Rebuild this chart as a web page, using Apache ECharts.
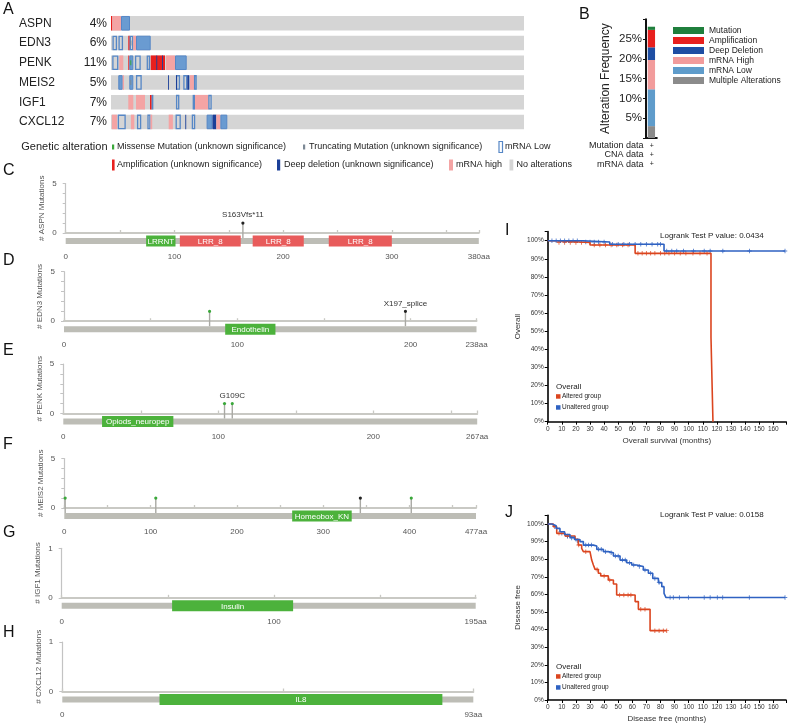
<!DOCTYPE html>
<html><head><meta charset="utf-8">
<script src="https://cdn.jsdelivr.net/npm/echarts@6/dist/echarts.min.js"></script>
<style>html,body{margin:0;padding:0;background:#fff}#c{width:793px;height:726px}</style>
</head><body><div id="c"></div>
<script>
const FONT = '"Liberation Sans", Arial, Helvetica, sans-serif';

// ---------------- Panel A: oncoprint data ----------------
const genes = ['ASPN', 'EDN3', 'PENK', 'MEIS2', 'IGF1', 'CXCL12'];
const genePct = ['4%', '6%', '11%', '5%', '7%', '7%'];
const sampleCount = 413;
// [startSample, endSample, alteration]
const altASPN = [[0,1.3,'amp'],[1.3,10,'high'],[10,19,'low']];
const altEDN3 = [[1.5,6,'low1'],[7.5,12,'low1'],[17.3,18.7,'amp'],[18.7,22.3,'low1'],[19.4,20.4,'trunc'],[22.3,25,'high'],[25,39.7,'low']];
const altPENK = [[1.3,7.3,'low1'],[8.3,12.3,'high'],[17.3,18.3,'amp'],[18.3,22.3,'low'],[19.3,20.3,'missense'],[24,29.7,'low1'],[35.7,39,'low1'],[39.7,54,'amp'],[45.3,46,'del'],[51,51.7,'del'],[55,64,'high'],[64,75.7,'low']];
const altMEIS2 = [[7.3,11.7,'low'],[11.7,13,'high'],[18.3,22.3,'low'],[19.3,20.3,'trunc'],[25,30.7,'low1'],[57,57.8,'del'],[65,69,'low1'],[65,66,'del'],[72.3,76.3,'low1'],[76.3,78.3,'del'],[79,83,'high'],[83,85.7,'low1']];
const altIGF1 = [[17.3,22.3,'high'],[25,34,'high'],[39,40.7,'amp'],[40.7,42.3,'low1'],[65,68.3,'low1'],[81.7,84,'low1'],[84,97.3,'high'],[97.3,100.7,'low1']];
const altCXCL12 = [[0.9,6.1,'high'],[6.8,14.7,'low1'],[19.9,23.3,'high'],[26,30.2,'low1'],[36.4,39.5,'low1'],[39.5,41.2,'high'],[57.7,61.9,'high'],[64.6,69.8,'low1'],[74.3,75,'del'],[80.8,84.2,'low1'],[95.6,101.5,'low'],[101.5,105.3,'del'],[105.3,109.4,'high'],[109.4,116.3,'low']];
const geneAlterations = [altASPN, altEDN3, altPENK, altMEIS2, altIGF1, altCXCL12];
const altTypes = ['bg','amp','del','high','low','low1','missense','trunc'];

// ---------------- Panel B: alteration frequency ----------------
const freqNames = ['Multiple Alterations','mRNA Low','mRNA High','Deep Deletion','Amplification','Mutation'];
const freqValues = [3.0, 9.3, 7.4, 3.2, 4.4, 0.8];
const freqLegendOrder = ['Mutation','Amplification','Deep Deletion','mRNA High','mRNA Low','Multiple Alterations'];
const profileRows = ['Mutation data','CNA data','mRNA data'];

// ---------------- Panels C-H: lollipop data ----------------
const mutGenes = ['ASPN','EDN3','PENK','MEIS2','IGF1','CXCL12'];
const proteinLength = [380, 238, 267, 477, 195, 93];
const mutYMax = [5, 5, 5, 5, 1, 1];
// [start, end, name, kind]  kind: 'g' green domain, 'r' red domain
const domASPN = [[74,101,'LRRNT','g'],[105,161,'LRR_8','r'],[172,219,'LRR_8','r'],[242,300,'LRR_8','r']];
const domEDN3 = [[93,122,'Endothelin','g']];
const domPENK = [[25,71,'Opiods_neuropep','g']];
const domMEIS2 = [[264,333,'Homeobox_KN','g']];
const domIGF1 = [[52,109,'Insulin','g']];
const domCXCL12 = [[22,86,'IL8','g']];
const domains = [domASPN, domEDN3, domPENK, domMEIS2, domIGF1, domCXCL12];
// [position, count, type, label]
const mutASPN = [[163,1,'trunc','S163Vfs*11']];
const mutEDN3 = [[84,1,'missense',''],[197,1,'trunc','X197_splice']];
const mutPENK = [[104,1,'missense',''],[109,1,'missense','G109C']];
const mutMEIS2 = [[1,1,'missense',''],[106,1,'missense',''],[343,1,'trunc',''],[402,1,'missense','']];
const mutIGF1 = [];
const mutCXCL12 = [];
const mutations = [mutASPN, mutEDN3, mutPENK, mutMEIS2, mutIGF1, mutCXCL12];

// ---------------- Panels I-J: Kaplan-Meier ----------------
const osAltered = [[0,100],[5,99],[30,97.6],[62,93],[115.8,46.6],[117.2,0]];
const osUnaltered = [[0,100],[25,99.3],[44,98],[82.5,94.3],[168.3,94.3]];
const osAlteredCensor = [[8,99],[12,99],[16,99],[20,99],[24,99],[33,97.6],[37,97.6],[41,97.6],[45,97.6],[49,97.6],[53,97.6],[57,97.6],[64,93],[67,93],[70,93],[73,93],[76,93],[80,93],[83,93],[86,93],[90,93],[94,93],[98,93],[103,93],[108,93],[113,93]];
const osUnalteredCensor = [[3,100],[6,100],[9,100],[12,100],[15,100],[18,100],[21,100],[27,99.3],[30,99.3],[33,99.3],[36,99.3],[40,99.3],[46,98],[50,98],[54,98],[58,98],[62,98],[66,98],[70,98],[74,98],[78,98],[80,98],[84.4,94.3],[88,94.3],[91.5,94.3],[96.3,94.3],[103.4,94.3],[111,94.3],[115.2,94.3],[124.2,94.3],[143.1,94.3],[168.3,94.3]];
const dfsAltered = [[0,100],[4,98.5],[6.4,94.7],[12.3,93.2],[19.4,91.3],[21.7,88.1],[24.1,86.2],[25.3,84.3],[30,83.3],[31.2,79.5],[32.4,76.7],[33.6,74.2],[35.9,72],[37.6,70.5],[43,68.2],[46.6,65.9],[48.9,59.7],[62,55.9],[64.3,51.5],[72.6,39.4],[84.4,39.4]];
const dfsUnaltered = [[0,100],[3,99],[6,97.5],[8.7,95.6],[12,94],[15.8,92.4],[19,91.2],[22.9,90],[25.3,88],[32.4,87.5],[34.8,85.6],[39.5,84.3],[43,83.7],[46.6,81.8],[51.3,79.5],[56,78],[59.6,76.7],[63.1,75.8],[67.8,73.9],[71.4,72],[74.5,69.1],[78.5,66.7],[80.9,64.4],[82.5,60.6],[83.9,58.2],[168.3,58.2]];
const dfsAlteredCensor = [[8,94.7],[14,93.2],[22,88.1],[27,84.3],[35,74.2],[40,70.5],[44,68.2],[51,59.7],[54,59.7],[57,59.7],[59,59.7],[66,51.5],[69,51.5],[76,39.4],[79,39.4],[82,39.4],[84.4,39.4]];
const dfsUnalteredCensor = [[5,98.5],[10,94.8],[14,93],[17,92],[21,90.5],[27,88],[29,88],[31,88],[36,85.6],[38,85.6],[41,84.3],[45,83.7],[48,81.8],[50,81.8],[53,79.5],[55,79.5],[58,78],[61,76.7],[65,75.8],[69,73.9],[73,72],[76,69.1],[79,66.7],[86.8,58.2],[89.1,58.2],[93.4,58.2],[99.8,58.2],[111,58.2],[115.2,58.2],[120.3,58.2],[124.1,58.2],[143,58.2],[168.3,58.2]];
const kmTitles = ['Overall','Disease free'];
const kmXNames = ['Overall survival (months)','Disease free (months)'];
const kmPValues = ['Logrank Test P value: 0.0434','Logrank Test P value: 0.0158'];
const kmGroups = ['Altered group','Unaltered group'];

// ---------------- styles / layout ----------------
const C_AMP = '#e8201e', C_DEL = '#1b3f98', C_HIGH = '#f4a4a4', C_LOW = '#6a9bd1', C_LOWS = '#5687c6';
const C_MIS = '#3aa83a', C_TRUNC = '#7d8995', C_BG = '#d5d5d5';
const freqColors = {'Mutation':'#1f7f3c','Amplification':'#e8201e','Deep Deletion':'#1f4ea3','mRNA High':'#f29c9c','mRNA Low':'#5f9ccb','Multiple Alterations':'#8b8b8b'};
const KM_RED = '#db451f', KM_BLUE = '#2f62c2';
const lolliLayout = [
  {left:65.7, right:478.8, top:183.5},
  {left:64, right:476.5, top:271.7},
  {left:63.3, right:477.2, top:364},
  {left:64.3, right:476, top:458.5},
  {left:61.7, right:475.7, top:548.3},
  {left:62.3, right:473.3, top:642}
];
const PLUS = 'path://M4,0H6V4H10V6H6V10H4V6H0V4H4Z';

function txt(x, y, text, size, opts) {
  opts = opts || {};
  const al = opts.align || 'left', va = opts.va || 'middle';
  return {type:'text', x:x, y:y, rotation: opts.rot || 0, silent:true,
    style:{text:text, font:(opts.weight ? opts.weight + ' ' : '') + size + 'px ' + FONT, fill:opts.color || '#222',
      align:al, verticalAlign:va, textAlign:al, textVerticalAlign:va}};
}
function rect(x, y, w, h, fill, stroke) {
  return {type:'rect', silent:true, shape:{x:x, y:y, width:w, height:h},
    style: stroke ? {fill:fill || 'none', stroke:stroke, lineWidth:1.2} : {fill:fill}};
}

// ---------------- build option ----------------
const grids = [], xAxes = [], yAxes = [], series = [];

// A
grids.push({left:111, top:13.4, width:413, height:118.4});
xAxes.push({type:'value', gridIndex:0, min:0, max:sampleCount, show:false});
yAxes.push({type:'category', gridIndex:0, data:genes, inverse:true,
  axisLine:{show:false}, axisTick:{show:false}, splitLine:{show:false},
  axisLabel:{margin:4, align:'right', formatter:(v, i) => '{g|' + v + '}{p|' + genePct[i] + '}',
    rich:{g:{width:60, align:'left', fontSize:12, fontFamily:FONT, color:'#222'},
          p:{width:28, align:'right', fontSize:12, fontFamily:FONT, color:'#222'}}}});
const oncoData = [];
genes.forEach((g, r) => oncoData.push([r, 0, sampleCount, 0]));
geneAlterations.forEach((arr, r) => arr.forEach(a => oncoData.push([r, a[0], a[1], altTypes.indexOf(a[2])])));
series.push({type:'custom', xAxisIndex:0, yAxisIndex:0, data:oncoData, encode:{x:[1,2], y:0}, silent:true,
  renderItem:function(params, api){
    const row = api.value(0), t = altTypes[api.value(3)];
    const a = api.coord([api.value(1), row]), b = api.coord([api.value(2), row]);
    const H = 14.6, cy = a[1], x = a[0], w = Math.max(b[0]-a[0], 0.9);
    if (t === 'bg') return {type:'rect', shape:{x:x, y:cy-H/2, width:w, height:H}, style:{fill:C_BG}};
    if (t === 'amp') return {type:'rect', shape:{x:x, y:cy-H/2, width:w, height:H}, style:{fill:C_AMP}};
    if (t === 'del') return {type:'rect', shape:{x:x, y:cy-H/2, width:w, height:H}, style:{fill:C_DEL}};
    if (t === 'high') return {type:'rect', shape:{x:x, y:cy-H/2, width:w, height:H}, style:{fill:C_HIGH}};
    if (t === 'low') return {type:'rect', shape:{x:x+0.5, y:cy-H/2+0.5, width:w-1, height:H-1}, style:{fill:C_LOW, stroke:C_LOWS, lineWidth:1}};
    if (t === 'low1') return {type:'rect', shape:{x:x+0.6, y:cy-H/2+0.6, width:w-1.2, height:H-1.2}, style:{fill:'none', stroke:C_LOWS, lineWidth:1.3}};
    if (t === 'missense') return {type:'rect', shape:{x:x, y:cy-2.5, width:w, height:5}, style:{fill:C_MIS}};
    return {type:'rect', shape:{x:x, y:cy-2.5, width:w, height:5}, style:{fill:C_TRUNC}};
  }});

// B
grids.push({left:646, top:19.2, width:10.8, height:118.8});
xAxes.push({type:'category', gridIndex:1, data:['all'], axisLine:{show:true, lineStyle:{color:'#111', width:2}},
  axisTick:{show:false}, axisLabel:{show:false}, splitLine:{show:false}});
yAxes.push({type:'value', gridIndex:1, min:0, max:30, interval:5,
  axisLine:{show:true, lineStyle:{color:'#111', width:2}}, axisTick:{show:true, length:3, lineStyle:{color:'#111'}},
  splitLine:{show:false},
  axisLabel:{fontSize:11.5, fontFamily:FONT, color:'#222', margin:4, formatter:v => (v > 0 && v < 30) ? v + '%' : ''},
  name:'Alteration Frequency', nameLocation:'middle', nameGap:34, nameMoveOverlap:false,
  nameTextStyle:{fontSize:12, fontFamily:FONT, color:'#222'}});
freqNames.forEach((n, i) => series.push({type:'bar', name:n, xAxisIndex:1, yAxisIndex:1, stack:'freq',
  barWidth:7.3, data:[freqValues[i]], itemStyle:{color:freqColors[n]}, silent:true}));

// C-H
mutGenes.forEach((g, k) => {
  const L = lolliLayout[k], gi = grids.length, len = proteinLength[k], ym = mutYMax[k];
  grids.push({left:L.left, top:L.top, width:L.right - L.left, height:49.5});
  xAxes.push({type:'value', gridIndex:gi, min:0, max:len, interval:50, position:'bottom', offset:15.5,
    axisLine:{show:true, lineStyle:{color:'#c9c9c4', width:2}},
    axisTick:{show:true, inside:true, length:3, lineStyle:{color:'#c9c9c4', width:1.3}},
    splitLine:{show:false},
    axisLabel:{fontSize:8, fontFamily:FONT, color:'#555', margin:4,
      formatter:v => v === len ? len + 'aa' : (v % 100 === 0 ? String(v) : '')}});
  yAxes.push({type:'value', gridIndex:gi, min:0, max:ym, interval:1, offset:4,
    axisLine:{show:true, lineStyle:{color:'#c3c3c3', width:1.2}},
    axisTick:{show:true, length:3, lineStyle:{color:'#c3c3c3'}},
    splitLine:{show:false},
    axisLabel:{fontSize:8, fontFamily:FONT, color:'#555', margin:5, formatter:v => (v === 0 || v === ym) ? String(v) : ''},
    name:'# ' + g + ' Mutations', nameLocation:'middle', nameGap:16, nameMoveOverlap:false,
    nameTextStyle:{fontSize:8, fontFamily:FONT, color:'#555'}});
  const dom = domains[k];
  const protData = [[0, len, 0]].concat(dom.map(d => [d[0], d[1], d[3] === 'g' ? 1 : 2]));
  const protNames = [''].concat(dom.map(d => d[2]));
  series.push({type:'custom', xAxisIndex:gi, yAxisIndex:gi, data:protData, encode:{x:[0,1]}, clip:false, silent:true,
    renderItem:function(params, api){
      const a = api.coord([api.value(0), 0]), b = api.coord([api.value(1), 0]), kind = api.value(2);
      const cy = a[1] + 8;
      if (kind === 0) return {type:'rect', shape:{x:a[0], y:cy-3, width:b[0]-a[0], height:6}, style:{fill:'#bdbdb6'}};
      return {type:'group', children:[
        {type:'rect', shape:{x:a[0], y:cy-5.5, width:b[0]-a[0], height:11}, style:{fill:kind === 1 ? '#4cb23c' : '#e85b5b'}},
        {type:'text', x:(a[0]+b[0])/2, y:cy+0.5, style:{text:protNames[params.dataIndex], font:'8px ' + FONT, fill:'#fff',
          align:'center', verticalAlign:'middle', textAlign:'center', textVerticalAlign:'middle'}}
      ]};
    }});
  const muts = mutations[k];
  if (muts.length) {
    series.push({type:'custom', xAxisIndex:gi, yAxisIndex:gi, data:muts.map(m => [m[0], m[1]]), encode:{x:0, y:1}, clip:false, silent:true, z:5,
      renderItem:function(params, api){
        const m = muts[params.dataIndex];
        const top = api.coord([api.value(0), api.value(1)]), base = api.coord([api.value(0), 0]);
        const ch = [
          {type:'line', shape:{x1:top[0], y1:base[1]+5, x2:top[0], y2:top[1]}, style:{stroke:'#a9a9a4', lineWidth:1.4}},
          {type:'circle', shape:{cx:top[0], cy:top[1], r:1.6}, style:{fill:m[2] === 'trunc' ? '#222' : C_MIS}}
        ];
        if (m[3]) ch.push({type:'text', x:top[0], y:top[1]-8, style:{text:m[3], font:'8px ' + FONT, fill:'#333',
          align:'center', verticalAlign:'middle', textAlign:'center', textVerticalAlign:'middle'}});
        return {type:'group', children:ch};
      }});
  }
});

// I-J
const kmGridTops = [231.65, 515.2], kmGridH = [190, 184.8];
const kmSets = [[osAltered, osUnaltered, osAlteredCensor, osUnalteredCensor], [dfsAltered, dfsUnaltered, dfsAlteredCensor, dfsUnalteredCensor]];
kmSets.forEach((set, k) => {
  const gi = grids.length;
  grids.push({left:547.7, top:kmGridTops[k], width:238.3, height:kmGridH[k]});
  xAxes.push({type:'value', gridIndex:gi, min:0, max:169, interval:10,
    axisLine:{show:true, lineStyle:{color:'#000', width:1.6}},
    axisTick:{show:true, length:3, lineStyle:{color:'#000', width:1}},
    splitLine:{show:false},
    axisLabel:{fontSize:6.5, fontFamily:FONT, color:'#333', margin:4, formatter:v => v % 10 === 0 ? String(v) : ''},
    name:kmXNames[k], nameLocation:'middle', nameGap:15, nameMoveOverlap:false,
    nameTextStyle:{fontSize:8, fontFamily:FONT, color:'#333'}});
  yAxes.push({type:'value', gridIndex:gi, min:0, max:105, interval:10,
    axisLine:{show:true, lineStyle:{color:'#000', width:1.6}},
    axisTick:{show:true, length:3, lineStyle:{color:'#000', width:1}},
    splitLine:{show:false},
    axisLabel:{fontSize:6.5, fontFamily:FONT, color:'#333', margin:4, formatter:v => v <= 100 ? v + '%' : ''},
    name:kmTitles[k], nameLocation:'middle', nameGap:26, nameMoveOverlap:false,
    nameTextStyle:{fontSize:8, fontFamily:FONT, color:'#333'}});
  series.push({type:'line', xAxisIndex:gi, yAxisIndex:gi, data:set[0], step:'end', symbol:'none', silent:true,
    lineStyle:{color:KM_RED, width:1.6}});
  series.push({type:'scatter', xAxisIndex:gi, yAxisIndex:gi, data:set[2], symbol:PLUS, symbolSize:4.5, silent:true,
    itemStyle:{color:KM_RED}});
  series.push({type:'line', xAxisIndex:gi, yAxisIndex:gi, data:set[1], step:'end', symbol:'none', silent:true,
    lineStyle:{color:KM_BLUE, width:1.6}});
  series.push({type:'scatter', xAxisIndex:gi, yAxisIndex:gi, data:set[3], symbol:PLUS, symbolSize:4.5, silent:true,
    itemStyle:{color:KM_BLUE}});
});
grids.forEach(g => { g.outerBoundsMode = 'none'; g.containLabel = false; });

// graphic: panel letters, legends, annotations
const graphics = [];
[['A',3,9.5],['B',579,15],['C',3,170.5],['D',3,261],['E',3,351],['F',3,445],['G',3,532.5],['H',3,633],['I',505,231],['J',505,513]]
  .forEach(l => graphics.push(txt(l[1], l[2], l[0], 16, {color:'#111'})));
// A legend
graphics.push(txt(107.5, 147, 'Genetic alteration', 11, {align:'right'}));
graphics.push(rect(112, 144.5, 2.2, 5, C_MIS));
graphics.push(txt(117, 147, 'Missense Mutation (unknown significance)', 9));
graphics.push(rect(303, 144.5, 2.2, 5, C_TRUNC));
graphics.push(txt(309, 147, 'Truncating Mutation (unknown significance)', 9));
graphics.push(rect(499, 141.5, 3.5, 11, null, C_LOWS));
graphics.push(txt(505, 147, 'mRNA Low', 9));
graphics.push(rect(112, 159.5, 2.6, 11, C_AMP));
graphics.push(txt(117, 165, 'Amplification (unknown significance)', 9));
graphics.push(rect(277, 159.5, 3.2, 11, C_DEL));
graphics.push(txt(284, 165, 'Deep deletion (unknown significance)', 9));
graphics.push(rect(449, 159.5, 4, 11, C_HIGH));
graphics.push(txt(456, 165, 'mRNA high', 9));
graphics.push(rect(509.5, 159.5, 3.8, 11, C_BG));
graphics.push(txt(516.5, 165, 'No alterations', 9));
// B profile rows
profileRows.forEach((r, i) => {
  graphics.push(txt(643.5, 145.7 + i * 9.3, r, 9, {align:'right'}));
  graphics.push(txt(651.7, 145.7 + i * 9.3, '+', 7, {align:'center'}));
});
// KM annotations
[[235.7, 386.7], [515, 666.7]].forEach((p, k) => {
  graphics.push(txt(660, p[0], kmPValues[k], 8));
  graphics.push(txt(556, p[1], 'Overall', 8));
  graphics.push(rect(556, p[1] + 7.5, 4.5, 4.5, KM_RED));
  graphics.push(txt(562, p[1] + 9.7, kmGroups[0], 6.5));
  graphics.push(rect(556, p[1] + 18.5, 4.5, 4.5, KM_BLUE));
  graphics.push(txt(562, p[1] + 20.7, kmGroups[1], 6.5));
});

const option = {
  animation:false,
  backgroundColor:'#fff',
  textStyle:{fontFamily:FONT},
  grid:grids, xAxis:xAxes, yAxis:yAxes, series:series,
  legend:{data:freqLegendOrder, orient:'vertical', left:673, top:25.5, padding:0, itemGap:0,
    itemWidth:31, itemHeight:7, icon:'rect', selectedMode:false,
    textStyle:{fontSize:8.5, fontFamily:FONT, color:'#222', lineHeight:10}},
  graphic:{elements:graphics}
};
const chart = echarts.init(document.getElementById('c'));
chart.setOption(option);
</script>
</body></html>
